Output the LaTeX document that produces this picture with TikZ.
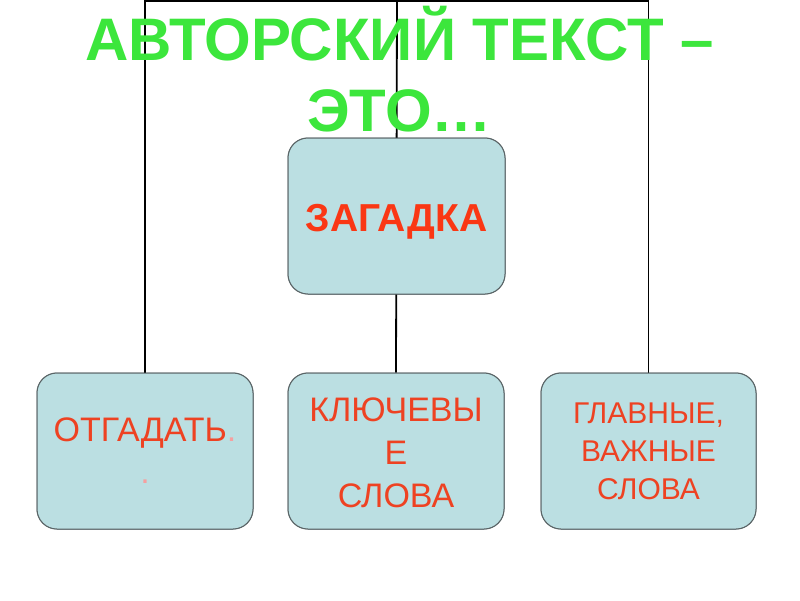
\documentclass[tikz,border=0pt]{standalone}
\usepackage{fontspec}
\setmainfont{Liberation Sans}
\definecolor{titlegreen}{RGB}{60,230,60}
\definecolor{boxfill}{RGB}{187,223,226}
\definecolor{boxline}{RGB}{90,100,102}
\definecolor{txtred}{RGB}{238,66,34}
\definecolor{boldred}{RGB}{250,55,20}
\definecolor{dotpink}{RGB}{245,160,160}
\begin{document}
\begin{tikzpicture}[x=1pt,y=-1pt,
  card/.style={draw=boxline, line width=1pt, fill=boxfill, rounded corners=20pt,
    minimum width=216pt, minimum height=156pt, inner sep=0pt, align=center, text=txtred},
  link/.style={draw=black, line width=1.8pt}]
\useasboundingbox (0,0) rectangle (800,600);
\fill[white] (0,0) rectangle (800,600);
\coordinate (topmid) at (397,1);
\coordinate (topleft) at (145,1);
\coordinate (topright) at (648.5,1);
\node[card, minimum width=217pt] (zag) at (396.5,216) {};
\node[card] (otg) at (145,451) {};
\node[card] (klu) at (396,451) {};
\node[card, minimum width=215pt] (glav) at (648.5,451) {};
\draw[link] (klu.north) -- (topmid);
\draw[link] (otg.north) -- (topleft) -- (topright) -- (glav.north);
\node[card, minimum width=217pt, text=boldred, font=\fontsize{39}{44}\selectfont\bfseries] at (zag) {};
\node[text=boldred, font=\fontsize{39}{44}\selectfont\bfseries, anchor=base, inner sep=0pt] at (396.5,231) {ЗАГАДКА};
\node[card, font=\fontsize{34}{42}\selectfont] at (otg) {ОТГАДАТЬ\textcolor{dotpink}{.}\\\textcolor{dotpink}{.}};
\node[card, font=\fontsize{34}{43}\selectfont, text height=26pt] at (klu) {};
\node[text=txtred, font=\fontsize{34}{43}\selectfont, align=center, anchor=base, inner sep=0pt] at (396,507) {КЛЮЧЕВЫ\\Е\\СЛОВА};
\node[card, minimum width=215pt, font=\fontsize{30}{38}\selectfont] at (glav) {ГЛАВНЫЕ,\\ВАЖНЫЕ\\СЛОВА};
\node[anchor=base, align=center, text=titlegreen, font=\fontsize{60}{71}\selectfont\bfseries, inner sep=0pt] (title) at (399.5,131) {АВТОРСКИЙ ТЕКСТ –\\ЭТО…};
\end{tikzpicture}
\end{document}
